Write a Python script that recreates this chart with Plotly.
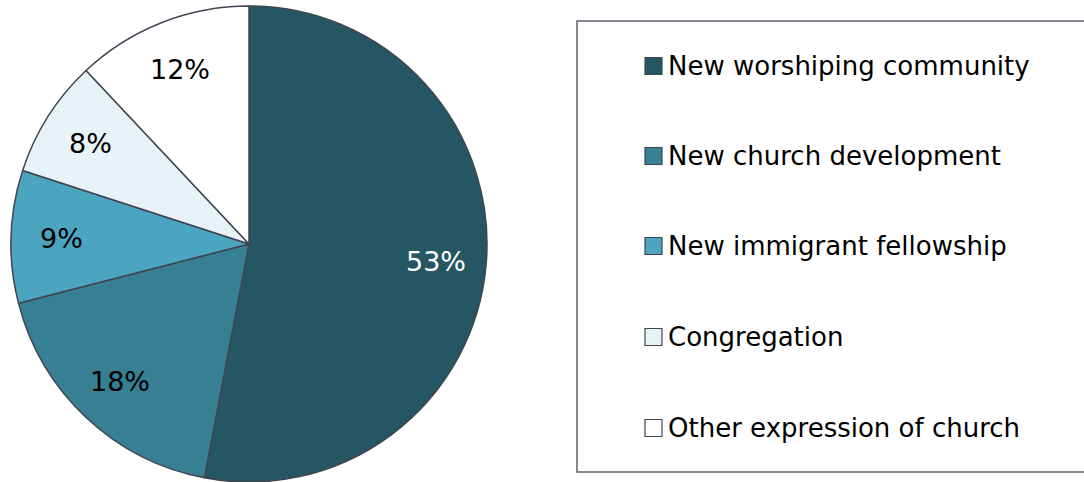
import math
import plotly.graph_objects as go

# Share of new church starts by type
labels = ["New worshiping community", "New church development",
          "New immigrant fellowship", "Congregation", "Other expression of church"]
values = [53, 18, 9, 8, 12]
colors = ["#255663", "#377F93", "#4BA5C0", "#E7F3F6", "#FFFFFF"]
text_colors = ["#FFFFFF", "#000000", "#000000", "#000000", "#000000"]

W, H = 1084, 482
FONT = "DejaVu Sans, Verdana, sans-serif"
EDGE = "#404552"

# Pie placement (pixels): centre and radius follow from the domain
px0, px1, py0, py1 = 11, 487, 0, 476
cx, cy = (px0 + px1) / 2, H - (py0 + py1) / 2
R = (px1 - px0) / 2

fig = go.Figure(go.Pie(
    labels=labels,
    values=values,
    marker=dict(colors=colors, line=dict(color=EDGE, width=1.5)),
    sort=False,
    direction="clockwise",
    rotation=0,
    textinfo="none",
    showlegend=False,
    hoverinfo="label+percent",
    domain=dict(x=[px0 / W, px1 / W], y=[py0 / H, py1 / H]),
))

# Percentage labels at a fixed fraction of the radius along each slice's mid-angle
annotations = []
total = sum(values)
cum = 0
LABEL_R = 0.79
for v, tc in zip(values, text_colors):
    mid = (cum + v / 2) / total * 2 * math.pi
    cum += v
    lx = cx + LABEL_R * R * math.sin(mid)
    ly = cy - LABEL_R * R * math.cos(mid)
    annotations.append(dict(xref="paper", yref="paper", x=lx / W, y=1 - ly / H,
                            text=f"{round(v / total * 100)}%", showarrow=False,
                            xanchor="center", yanchor="middle",
                            font=dict(family=FONT, size=27, color=tc)))

# Legend panel: framed box with one swatch + label per category
box_x0, box_x1 = 577, 1100
box_y0, box_y1 = 21, 472
row_y = [66, 156, 246, 337, 428]
sw = 17
shapes = [dict(type="rect", xref="paper", yref="paper",
               x0=box_x0 / W, x1=box_x1 / W,
               y0=1 - box_y1 / H, y1=1 - box_y0 / H,
               line=dict(color="#5A606C", width=1.5), fillcolor="rgba(0,0,0,0)")]
for lab, col, yy in zip(labels, colors, row_y):
    shapes.append(dict(type="rect", xref="paper", yref="paper",
                       x0=645 / W, x1=(645 + sw) / W,
                       y0=1 - (yy + sw / 2) / H, y1=1 - (yy - sw / 2) / H,
                       line=dict(color=EDGE, width=1.2), fillcolor=col))
    annotations.append(dict(xref="paper", yref="paper", x=666 / W, y=1 - yy / H,
                            text=lab, showarrow=False, xanchor="left", yanchor="middle",
                            font=dict(family=FONT, size=26, color="#000000")))

fig.update_layout(
    width=W, height=H,
    margin=dict(l=0, r=0, t=0, b=0),
    paper_bgcolor="#FFFFFF",
    plot_bgcolor="#FFFFFF",
    shapes=shapes,
    annotations=annotations,
)

fig.write_html("out.html")
